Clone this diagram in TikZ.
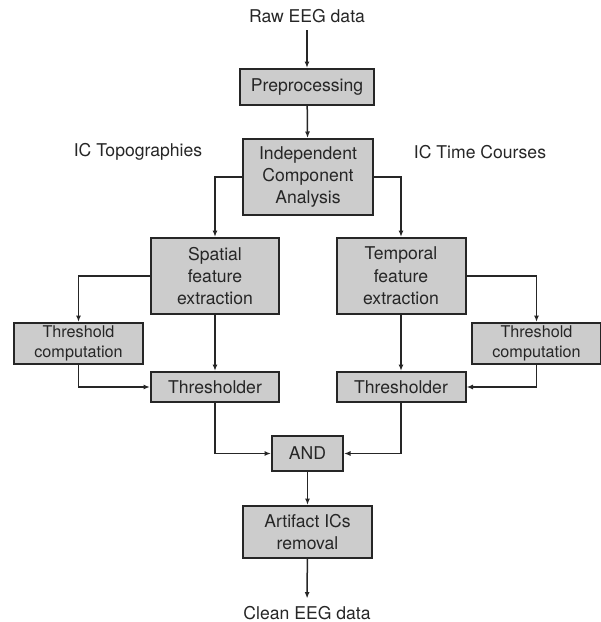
\documentclass[tikz,border=0pt]{standalone}
\usepackage{fontspec}
\setmainfont{TeX Gyre Heros}
\usetikzlibrary{positioning,arrows.meta}
\definecolor{boxgray}{gray}{0.80}
\definecolor{inkgray}{gray}{0.15}
\newcommand{\mainsize}{\fontsize{17.6}{22.3}\selectfont}
\newcommand{\tcsize}{\fontsize{16.2}{20}\selectfont}
\tikzset{
  procbox/.style={rectangle,draw=inkgray,fill=boxgray,line width=2pt,align=center,inner sep=1pt,font=\mainsize,text=inkgray},
  tcbox/.style={procbox,font=\tcsize,minimum width=129pt,minimum height=41pt},
  plainlabel/.style={inner sep=7.5pt,font=\mainsize,text=inkgray},
  flow/.style={draw=inkgray,line width=1.5pt,-{Latex[length=6.5pt,width=5pt]}}
}

\begin{document}
\begin{tikzpicture}[x=1pt,y=-1pt]
  \useasboundingbox (0,0) rectangle (601,622);
  \node[plainlabel] (raw) at (307,16) {Raw EEG data};
  \node[procbox,minimum width=134pt,minimum height=36pt] (pre) at (307,87) {Preprocessing};
  \node[procbox,minimum width=130pt,minimum height=76pt] (ica) at (308,177) {Independent\\Component\\Analysis};
  \node[plainlabel] (topo) at (138,152) {IC Topographies};
  \node[plainlabel] (tcourse) at (480,152) {IC Time Courses};
  \node[procbox,minimum width=128pt,minimum height=76pt] (spat) at (215,276) {Spatial\\feature\\extraction};
  \node[procbox,minimum width=129pt,minimum height=76pt] (temp) at (401,276) {Temporal\\feature\\extraction};
  \node[tcbox] (tcl) at (78.5,343.5) {Threshold\\computation};
  \node[tcbox] (tcr) at (536.5,343.5) {Threshold\\computation};
  \node[procbox,minimum width=128pt,minimum height=30pt] (thl) at (215,387) {Thresholder};
  \node[procbox,minimum width=129pt,minimum height=30pt] (thr) at (401,387) {Thresholder};
  \node[procbox,minimum width=71pt,minimum height=35pt] (and) at (307.5,453.5) {AND};
  \node[procbox,minimum width=129pt,minimum height=52pt] (art) at (307.5,532) {Artifact ICs\\removal};
  \node[plainlabel] (clean) at (307,613) {Clean EEG data};

  \draw[flow] (raw) -- (pre);
  \draw[flow] (pre) -- (ica);
  \draw[flow] (ica.west) -| (spat.north);
  \draw[flow] (ica.east) -| (temp.north);
  \draw[flow] (spat.west) -| (tcl.north);
  \draw[flow] (temp.east) -| (tcr.north);
  \draw[flow] (spat) -- (thl);
  \draw[flow] (temp) -- (thr);
  \draw[flow] (tcl.south) |- (thl.west);
  \draw[flow] (tcr.south) |- (thr.east);
  \draw[flow] (thl.south) |- (and.west);
  \draw[flow] (thr.south) |- (and.east);
  \draw[flow] (and) -- (art);
  \draw[flow] (art) -- (clean);
\end{tikzpicture}
\end{document}
